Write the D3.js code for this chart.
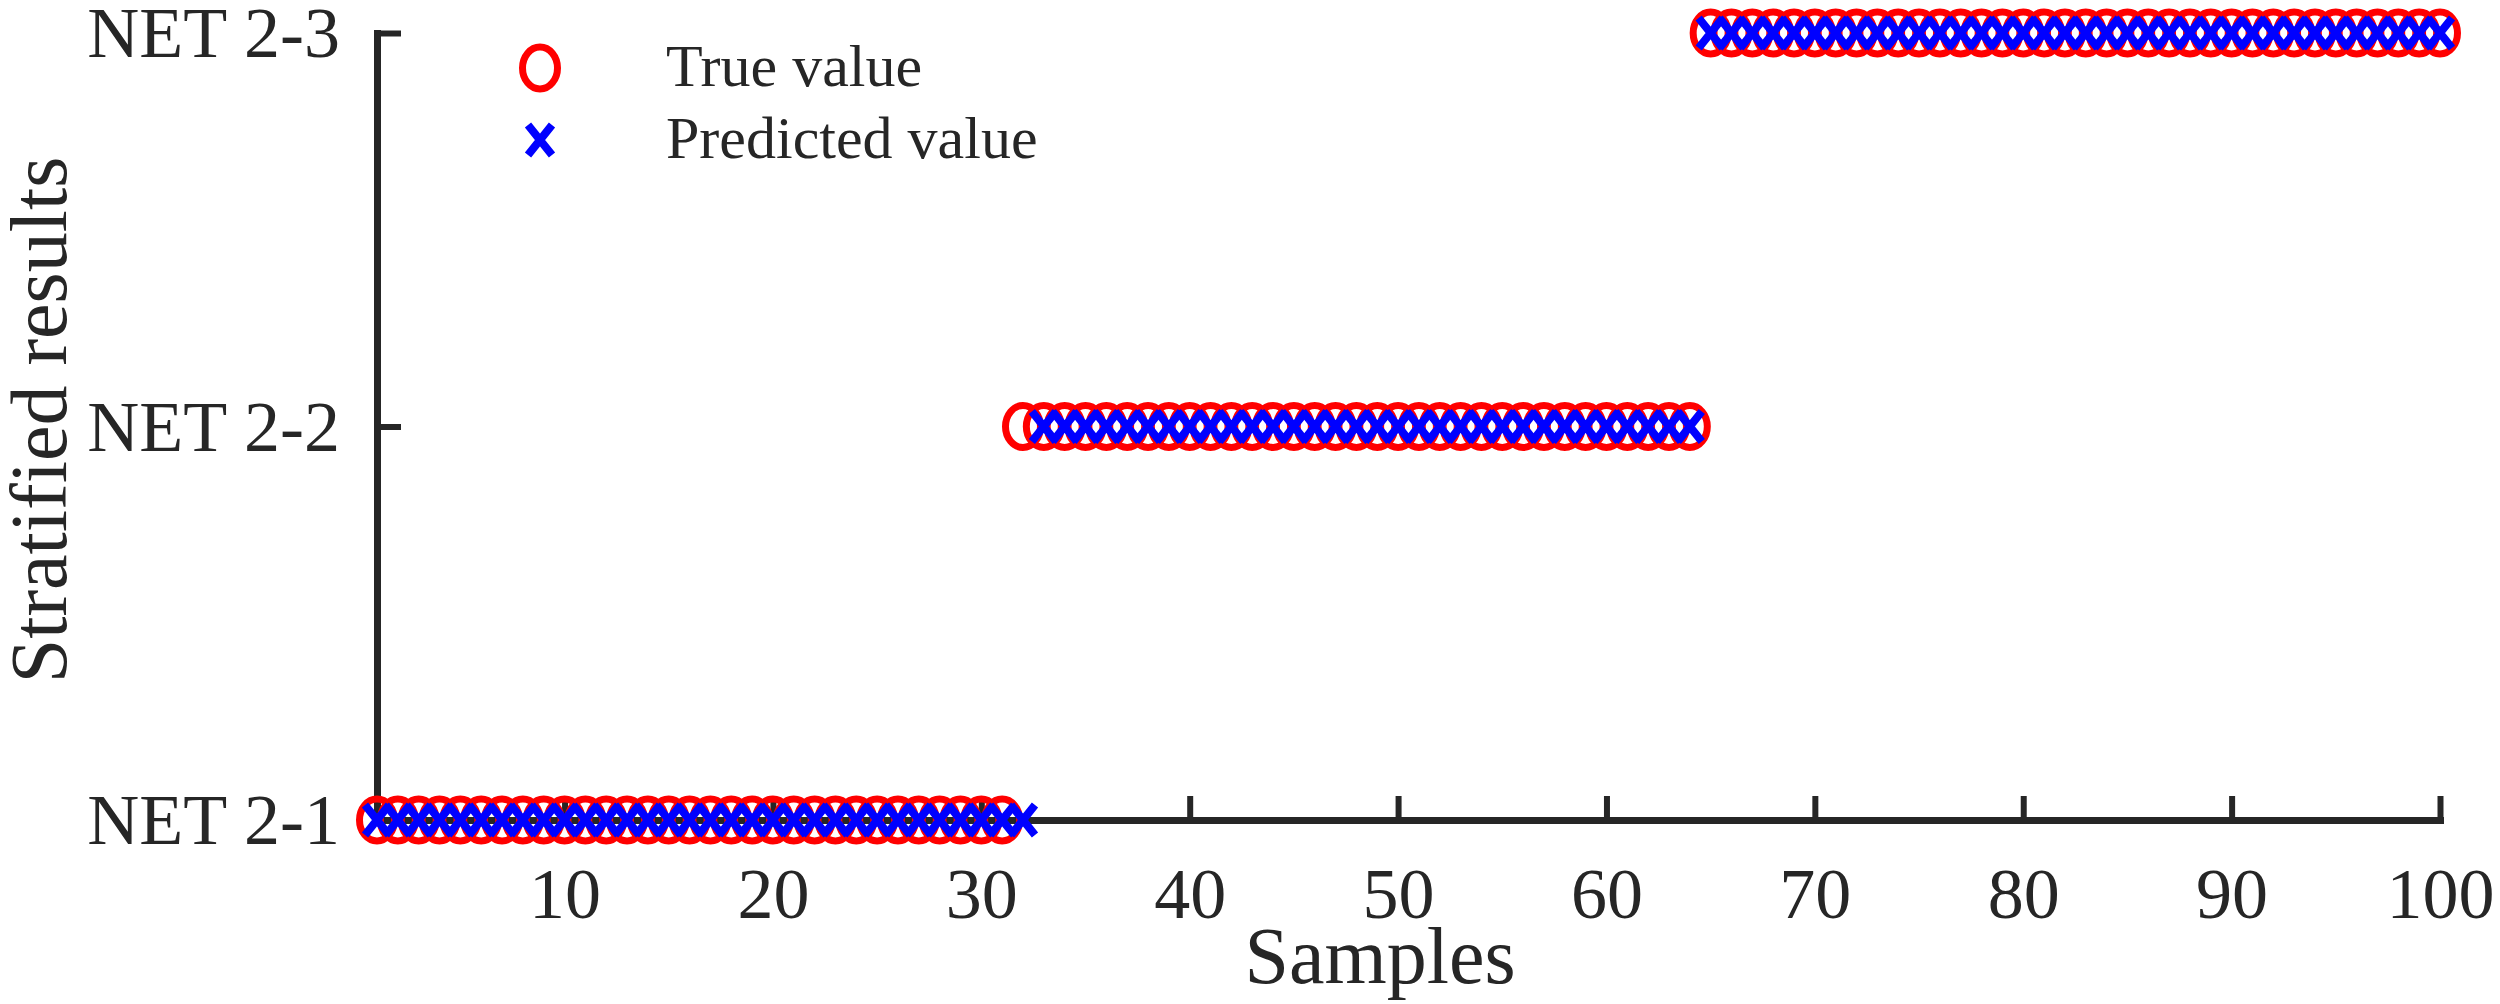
<!DOCTYPE html>
<html>
<head>
<meta charset="utf-8">
<script src="https://cdn.jsdelivr.net/npm/d3@7"></script>
<style>
  body { margin: 0; background: #fff; }
  text { font-family: "Liberation Serif", "Times New Roman", serif; fill: #262626; }
</style>
</head>
<body>
<div id="chart"></div>
<script>
// Class of each sample (1 = NET 2-1, 2 = NET 2-2, 3 = NET 2-3), samples 1..100
const trueValue = [
  1,1,1,1,1,1,1,1,1,1,
  1,1,1,1,1,1,1,1,1,1,
  1,1,1,1,1,1,1,1,1,1,
  1,2,2,2,2,2,2,2,2,2,
  2,2,2,2,2,2,2,2,2,2,
  2,2,2,2,2,2,2,2,2,2,
  2,2,2,2,3,3,3,3,3,3,
  3,3,3,3,3,3,3,3,3,3,
  3,3,3,3,3,3,3,3,3,3,
  3,3,3,3,3,3,3,3,3,3
]
const predictedValue = [
  1,1,1,1,1,1,1,1,1,1,
  1,1,1,1,1,1,1,1,1,1,
  1,1,1,1,1,1,1,1,1,1,
  1,1,2,2,2,2,2,2,2,2,
  2,2,2,2,2,2,2,2,2,2,
  2,2,2,2,2,2,2,2,2,2,
  2,2,2,2,3,3,3,3,3,3,
  3,3,3,3,3,3,3,3,3,3,
  3,3,3,3,3,3,3,3,3,3,
  3,3,3,3,3,3,3,3,3,3
]
const classLevels = [1, 2, 3]
const classLabels = ["NET 2-1", "NET 2-2", "NET 2-3"]
const xTicks = [10, 20, 30, 40, 50, 60, 70, 80, 90, 100]
const legendItems = ["True value", "Predicted value"]

const W = 2500, H = 1004
const axisColor = "#262626"
const fontFamily = '"Liberation Serif", "Times New Roman", serif'

const svg = d3.select("#chart").append("svg")
    .attr("width", W)
    .attr("height", H)

const x = d3.scaleLinear().domain([1, 100]).range([377, 2440])
const y = d3.scaleLinear().domain([1, 3]).range([820, 33])

// axes first, markers go over them
const xAxis = svg.append("g")
    .attr("transform", `translate(0,${y(1)})`)
    .call(d3.axisBottom(x).tickValues(xTicks).tickSizeInner(-24).tickSizeOuter(0).tickPadding(47))
const yAxis = svg.append("g")
    .attr("transform", `translate(${x(1)},0)`)
    .call(d3.axisLeft(y).tickValues(classLevels).tickFormat((d, i) => classLabels[i])
        .tickSizeInner(-24).tickSizeOuter(0).tickPadding(37))

for (const g of [xAxis, yAxis]) {
    g.select(".domain").attr("stroke", axisColor).attr("stroke-width", 7).attr("stroke-linecap", "square")
    g.selectAll(".tick line").attr("stroke", axisColor).attr("stroke-width", 6)
    g.selectAll(".tick text")
        .attr("fill", axisColor)
        .attr("font-family", fontFamily)
        .attr("font-size", 72)
}
yAxis.selectAll(".tick text").attr("dy", "0.33em")

// axis titles
svg.append("text")
    .attr("x", 1380)
    .attr("y", 983)
    .attr("text-anchor", "middle")
    .attr("font-size", 80)
    .text("Samples")

svg.append("text")
    .attr("transform", "translate(66,420) rotate(-90)")
    .attr("text-anchor", "middle")
    .attr("font-size", 80)
    .text("Stratified results")

// markers
const rx = 17.5, ry = 21
function xPath(cx, cy) {
    const a = 12, b = 15
    return `M${cx - a},${cy - b}L${cx + a},${cy + b}M${cx - a},${cy + b}L${cx + a},${cy - b}`
}

svg.append("g")
    .selectAll("ellipse")
    .data(trueValue)
    .join("ellipse")
        .attr("cx", (d, i) => x(i + 1))
        .attr("cy", d => y(d))
        .attr("rx", rx)
        .attr("ry", ry)
        .attr("fill", "none")
        .attr("stroke", "#ff0000")
        .attr("stroke-width", 7)

svg.append("g")
    .selectAll("path")
    .data(predictedValue)
    .join("path")
        .attr("d", (d, i) => xPath(x(i + 1), y(d)))
        .attr("fill", "none")
        .attr("stroke", "#0000ff")
        .attr("stroke-width", 8)

// legend
const legend = svg.append("g")
legend.append("ellipse")
    .attr("cx", 540).attr("cy", 68)
    .attr("rx", rx).attr("ry", ry)
    .attr("fill", "none")
    .attr("stroke", "#ff0000")
    .attr("stroke-width", 7)
legend.append("path")
    .attr("d", xPath(540, 140))
    .attr("fill", "none")
    .attr("stroke", "#0000ff")
    .attr("stroke-width", 8)
legend.selectAll("text")
    .data(legendItems)
    .join("text")
        .attr("x", 666)
        .attr("y", (d, i) => 86 + i * 72)
        .attr("font-size", 60)
        .attr("fill", "#000")
        .text(d => d)
</script>
</body>
</html>
